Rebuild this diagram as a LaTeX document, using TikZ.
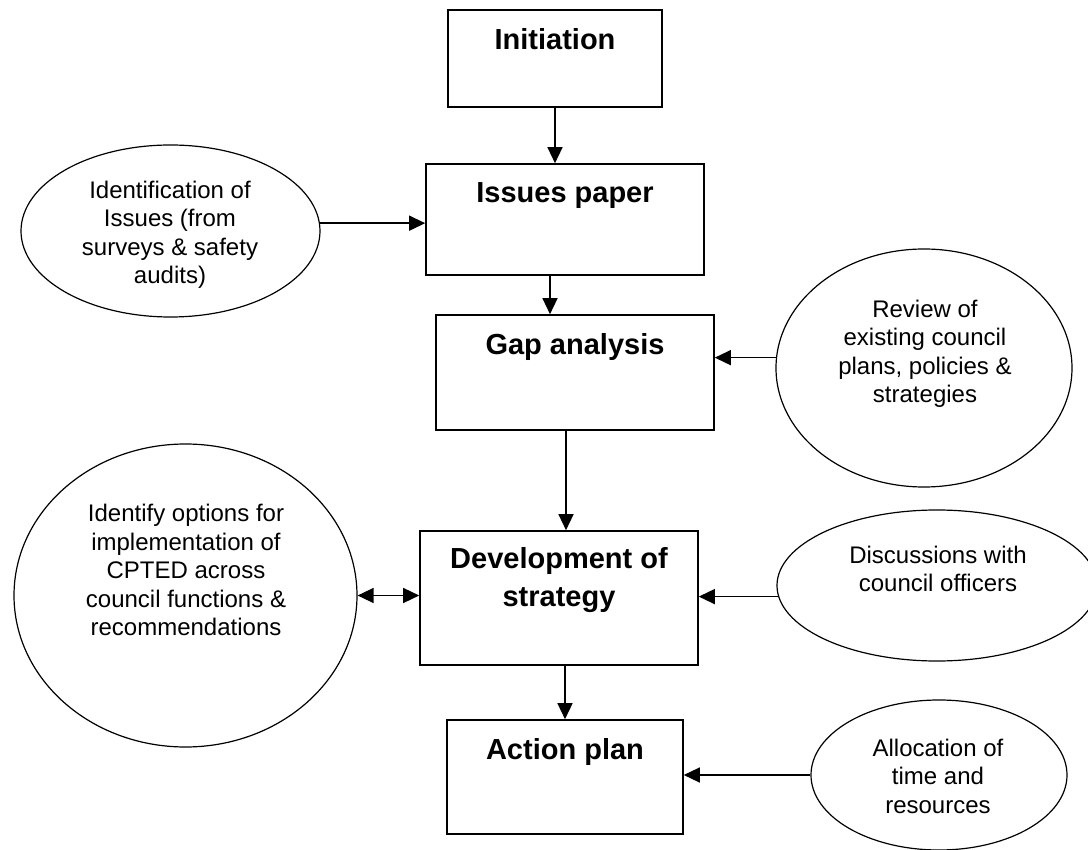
\documentclass[tikz,border=0pt]{standalone}
\usepackage{fontspec}
\setmainfont{Liberation Sans}
\usetikzlibrary{shapes.geometric,arrows.meta}

\begin{document}
\begin{tikzpicture}[x=1pt, y=-1pt, >={Triangle[length=16pt,width=15pt]},
    stage/.style={draw, line width=1.6pt, inner sep=0pt},
    idea/.style={draw, ellipse, line width=1.2pt, inner sep=0pt},
    stagetext/.style={font=\bfseries\fontsize{29}{38}\selectfont, align=center},
    ideatext/.style={font=\fontsize{24}{28.5}\selectfont, align=center},
    link/.style={->, line width=1.4pt}]
    \useasboundingbox (0,0) rectangle (1088,850);
    % boxes
    \node[stage, minimum width=214pt, minimum height=97pt] (init) at (555,58.5) {};
    \node[stage, minimum width=278pt, minimum height=111pt] (issues) at (565,219.5) {};
    \node[stage, minimum width=278pt, minimum height=115pt] (gap) at (575,372.5) {};
    \node[stage, minimum width=278pt, minimum height=134pt] (dev) at (559,598) {};
    \node[stage, minimum width=236pt, minimum height=114pt] (action) at (565,777) {};
    \node[stagetext] (initT) at (555,39.5) {Initiation};
    \node[stagetext] (issuesT) at (565,196) {Issues paper};
    \node[stagetext] (gapT) at (575,347) {Gap analysis};
    \node[stagetext] (devT) at (559,580.5) {Development of\\strategy};
    \node[stagetext] (actionT) at (565,751.5) {Action plan};
    % ellipses
    \node[idea, minimum width=299pt, minimum height=172pt] (ident) at (170.5,231) {};
    \node[idea, minimum width=296pt, minimum height=238pt] (review) at (924,368) {};
    \node[idea, minimum width=343pt, minimum height=303pt] (big) at (185.5,595.5) {};
    \node[idea, minimum width=320pt, minimum height=151pt] (disc) at (937,585.5) {};
    \node[idea, minimum width=256pt, minimum height=150pt] (alloc) at (939,775) {};
    \node[ideatext] (identT) at (170,235) {Identification of\\Issues (from\\surveys \& safety\\audits)};
    \node[ideatext] (reviewT) at (925,354) {Review of\\existing council\\plans, policies \&\\strategies};
    \node[ideatext] (bigT) at (186,570) {Identify options for\\implementation of\\CPTED across\\council functions \&\\recommendations};
    \node[ideatext] (discT) at (938,569) {Discussions with\\council officers};
    \node[ideatext] (allocT) at (938,776) {Allocation of\\time and\\resources};
    % arrows
    \draw[link] (init) -- (init |- issues.north);
    \draw[link] ([xshift=-15pt]issues.south) -- ([xshift=-25pt]gap.north);
    \draw[link] ([xshift=-9pt]gap.south) -- ([xshift=7pt]dev.north);
    \draw[link] ([xshift=6pt]dev.south) -- (action.north);
    \draw[link] (ident.3) -- (ident.3 -| issues.west);
    \draw[link] (review.176) -- (review.176 -| gap.east);
    \draw[link, <->] (big.east) -- (big.east -| dev.west);
    \draw[link] (disc.184) -- (disc.184 -| dev.east);
    \draw[link] (alloc.west) -- (alloc.west -| action.east);
\end{tikzpicture}
\end{document}
